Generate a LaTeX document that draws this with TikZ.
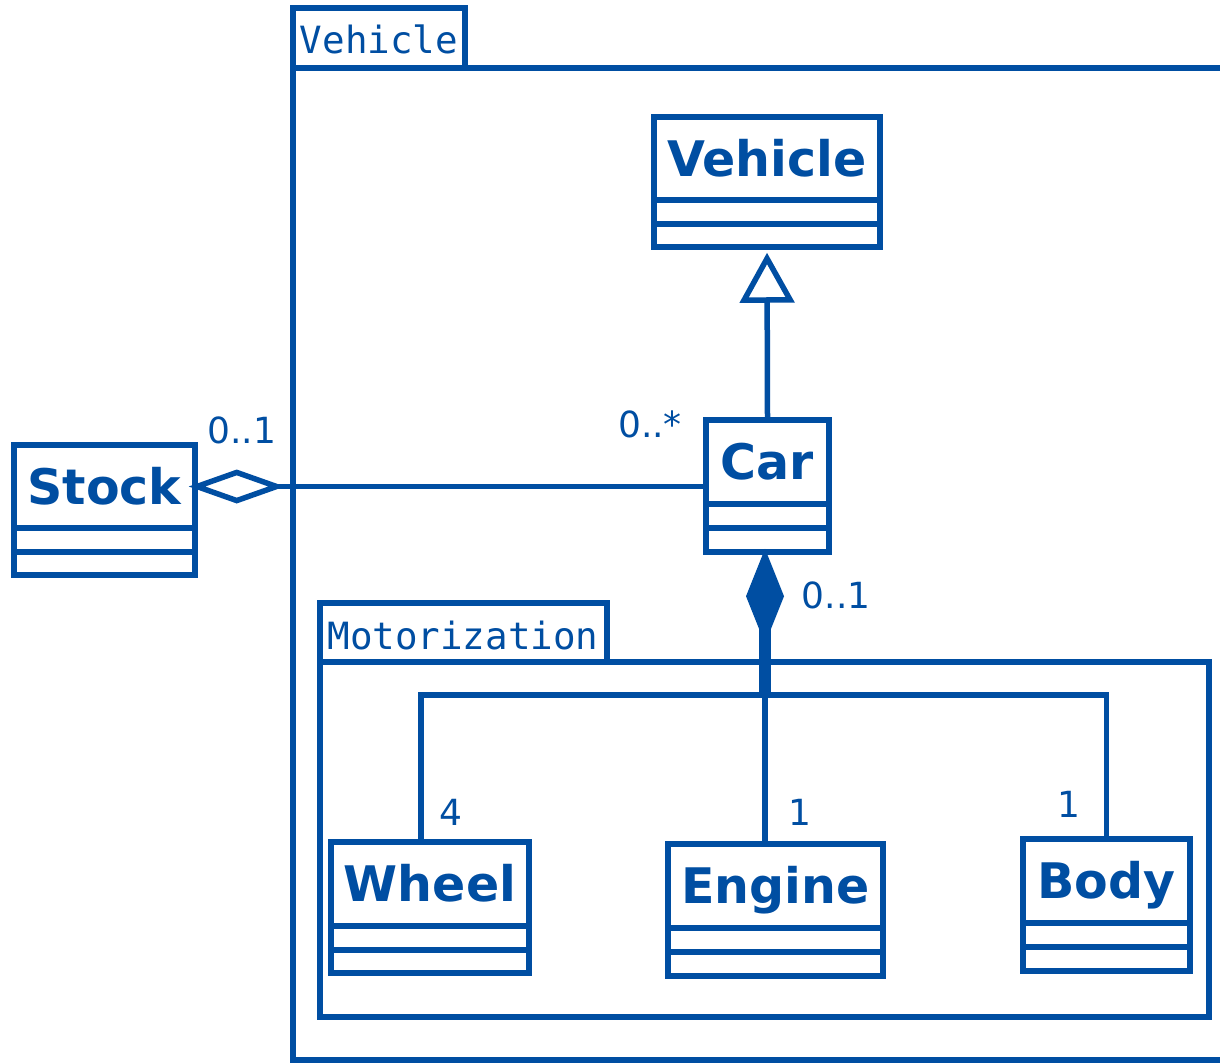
\documentclass[tikz,border=0pt]{standalone}
\usepackage{fontspec}
\setmainfont{DejaVu Sans}
\newfontfamily\pkgmono{DejaVu Sans Mono}
\usetikzlibrary{arrows.meta}
\definecolor{umlblue}{RGB}{0,78,162}
\tikzset{
  umlline/.style={draw=umlblue, line width=5.5pt},
  cls/.style={draw=umlblue, line width=5.5pt, fill=white, rectangle, inner sep=0pt},
  clsname/.style={text=umlblue, inner sep=0pt, text height=35.8pt, text depth=0pt,
    font=\fontsize{49}{58}\selectfont\bfseries},
  mult/.style={text=umlblue, inner sep=0pt, text height=26.3pt, text depth=0pt,
    font=\fontsize{36}{43}\selectfont},
  pkgtab/.style={draw=umlblue, line width=5.5pt, rectangle, inner sep=0pt},
  pkglabel/.style={text=umlblue, inner sep=0pt, text height=27.4pt, text depth=0pt,
    font=\fontsize{37.5}{45}\pkgmono},
  conn/.style={draw=umlblue, line width=5.5pt},
}
\newcommand\umlclass[8]{%
  \node[cls, minimum width=#4-#2, minimum height=#5-#3] (#1) at ({(#2+#4)/2},{(#3+#5)/2}) {};
  \draw[umlline] (#2,#6) -- (#4,#6) (#2,#7) -- (#4,#7);
  \node[clsname] (#1-name) at ({(#2+#4)/2},{(#3+#6)/2}) {#8};
}
\begin{document}
\begin{tikzpicture}[x=1pt,y=-1pt]
\path[use as bounding box] (0,0) rectangle (1220,1064);
\clip (0,0) rectangle (1220,1064);
\fill[white] (0,0) rectangle (1220,1064);

% package Vehicle
\draw[umlline] (293,68) rectangle (1240,1060);
\node[pkgtab, minimum width=172, minimum height=60] (vehtab) at (379,38) {};
\node[pkglabel] (vehtab-label) at (379,40) {Vehicle};

% package Motorization
\draw[umlline] (320,662) rectangle (1209,1017);
\node[pkgtab, minimum width=287, minimum height=59] (mottab) at (463.5,632.5) {};
\node[pkglabel] (mottab-label) at (463,636) {Motorization};

% classes
\umlclass{vehicle}{654}{117}{880}{247}{200}{224}{Vehicle}
\umlclass{car}{706}{420}{829}{552}{504}{528}{Car}
\umlclass{stock}{14}{445}{195}{575}{528}{552}{Stock}
\umlclass{wheel}{331}{842}{529}{973}{926}{950}{Wheel}
\umlclass{engine}{668}{844}{883}{976}{928}{952}{Engine}
\umlclass{body}{1023}{839}{1190}{971}{923}{947}{Body}

% generalization Car -> Vehicle
\draw[conn, -{Triangle[open, length=50pt, width=54pt, line width=5.5pt]}, shorten >=3pt]
  (car.north) -- (vehicle.south);

% aggregation Stock <>-- Car
\draw[conn, {Diamond[open, length=96pt, width=34pt, line width=5.5pt]}-]
  ([xshift=-9pt]stock.east |- stock-name) -- (car.west |- stock-name);

% composition Car <#>-- parts
\coordinate (jl) at (762,695);
\coordinate (jr) at (768,695);
\draw[conn] ([xshift=-5.5pt,yshift=-60pt]car.south) -- (jl) -| ([xshift=-9pt]wheel.north);
\draw[conn] ([xshift=0.5pt,yshift=-60pt]car.south) -- (jr) -| (body.north);
\draw[conn, {Diamond[length=95pt, width=38pt]}-]
  ([xshift=-2.5pt,yshift=6pt]car.south) -- ([xshift=-10.5pt]engine.north);

% multiplicities
\node[mult] (m-stock) at (242,430) {0..1};
\node[mult] (m-carstock) at (650,424) {0..*};
\node[mult] (m-comp) at (836,595) {0..1};
\node[mult] (m-wheel) at (451,812) {4};
\node[mult] (m-engine) at (800,812) {1};
\node[mult] (m-body) at (1069,804) {1};
\end{tikzpicture}
\end{document}
